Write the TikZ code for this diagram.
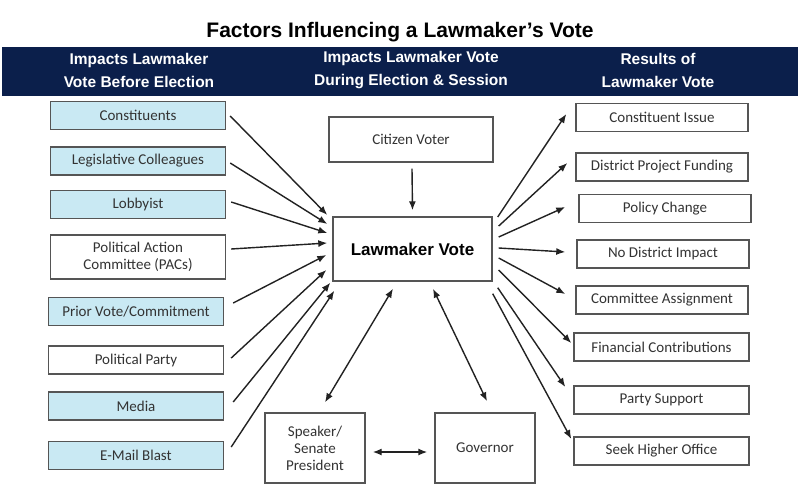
\documentclass[tikz,border=0pt]{standalone}
\usepackage{fontspec}
\setmainfont{Liberation Sans}
\newfontfamily\boxfont{Carlito}
\usetikzlibrary{arrows.meta}
\definecolor{navy}{HTML}{0B1F4B}
\definecolor{lblue}{HTML}{C9E9F3}
\definecolor{bline}{HTML}{555555}
\definecolor{btext}{HTML}{333333}
\definecolor{arrc}{HTML}{222222}
\begin{document}
\begin{tikzpicture}[x=1pt,y=-1pt,
  box/.style={draw=bline,line width=1.4pt,fill=white,inner sep=0pt,
    text=btext,font=\boxfont\fontsize{15}{18}\selectfont,align=center,
    minimum height=28pt},
  lbox/.style={box,minimum width=175pt},
  blbox/.style={lbox,fill=lblue},
  rbox/.style={box,minimum width=172pt},
  arr/.style={draw=arrc,line width=1.4pt,-{Latex[length=9pt,width=7pt]}},
  darr/.style={draw=arrc,line width=1.4pt,{Latex[length=9pt,width=7pt]}-{Latex[length=9pt,width=7pt]}},
  head/.style={text=white,font=\bfseries\fontsize{15.5}{23}\selectfont,align=center}
]
\useasboundingbox (0,0) rectangle (800,498);
\fill[white] (0,0) rectangle (800,498);
% title
\node[font=\bfseries\fontsize{21}{24}\selectfont] (title) at (400,32) {Factors Influencing a Lawmaker’s Vote};
% banner
\node[fill=navy,minimum width=796pt,minimum height=49pt,inner sep=0pt] (banner) at (400,71.5) {};
\node[head] (h1) at (139,70.5) {Impacts Lawmaker\\Vote Before Election};
\node[head] (h2) at (411,70.5) {Impacts Lawmaker Vote\\During Election \& Session};
\node[head] (h3) at (658,70.5) {Results of\\Lawmaker Vote};
% left column
\node[blbox] (l1) at (138,115.5) {Constituents};
\node[blbox] (l2) at (138,161) {Legislative Colleagues};
\node[blbox] (l3) at (138,204.5) {Lobbyist};
\node[lbox,minimum height=44pt] (l4) at (138,257) {Political Action\\[-1pt]Committee (PACs)};
\node[blbox] (l5) at (136,311.5) {Prior Vote/Commitment};
\node[lbox] (l6) at (136,360) {Political Party};
\node[blbox] (l7) at (136,406) {Media};
\node[blbox] (l8) at (136,455.5) {E-Mail Blast};
% center column
\node[box,minimum width=164pt,minimum height=45pt] (cv) at (411,139.5) {Citizen Voter};
\node[box,minimum width=159pt,minimum height=64pt,text=black,font=\bfseries\fontsize{17}{20}\selectfont] (lv) at (412.5,249) {Lawmaker Vote};
\node[box,minimum width=100pt,minimum height=70pt] (sp) at (315,448) {Speaker/\\[-1pt]Senate\\[-1pt]President};
\node[box,minimum width=100pt,minimum height=70pt] (gv) at (485,448) {Governor};
% right column
\node[rbox] (r1) at (662,117.5) {Constituent Issue};
\node[rbox] (r2) at (662,167) {District Project Funding};
\node[rbox] (r3) at (665,208.5) {Policy Change};
\node[rbox] (r4) at (663,254) {No District Impact};
\node[rbox] (r5) at (662,300) {Committee Assignment};
\node[rbox,minimum width=175pt] (r6) at (661.5,347) {Financial Contributions};
\node[rbox,minimum width=175pt] (r7) at (661.5,400) {Party Support};
\node[rbox,minimum width=175pt] (r8) at (661.5,451) {Seek Higher Office};
% left arrows
\draw[arr] ([shift={(4,0.5)}]l1.east) -- ([shift={(-5,-34)}]lv.west);
\draw[arr] ([shift={(4,2)}]l2.east) -- ([shift={(-5,-25)}]lv.west);
\draw[arr] ([shift={(5,-2.5)}]l3.east) -- ([shift={(-5,-16)}]lv.west);
\draw[arr] ([shift={(5,-8)}]l4.east) -- ([shift={(-5,-6)}]lv.west);
\draw[arr] ([shift={(9,-8.5)}]l5.east) -- ([shift={(-6,6)}]lv.west);
\draw[arr] ([shift={(7,-2)}]l6.east) -- ([shift={(-6,21)}]lv.west);
\draw[arr] ([shift={(9,-4)}]l7.east) -- ([shift={(-2,1)}]lv.south west);
\draw[arr] ([shift={(7,-8.5)}]l8.east) -- ([shift={(2,9)}]lv.south west);
% right arrows
\draw[arr] ([shift={(5,-32)}]lv.east) -- ([shift={(-9,-3.5)}]r1.west);
\draw[arr] ([shift={(6,-23)}]lv.east) -- ([shift={(-8,-4)}]r2.west);
\draw[arr] ([shift={(6,-12)}]lv.east) -- ([shift={(-13,-1.5)}]r3.west);
\draw[arr] ([shift={(6,-1)}]lv.east) -- ([shift={(-11,-2)}]r4.west);
\draw[arr] ([shift={(6,9)}]lv.east) -- ([shift={(-10,-6)}]r5.west);
\draw[arr] ([shift={(6,21)}]lv.east) -- ([shift={(-2,-4)}]r6.west);
\draw[arr] ([shift={(5,6)}]lv.south east) -- ([shift={(-8,-13)}]r7.west);
\draw[arr] ([shift={(0,12)}]lv.south east) -- ([shift={(-2,-12)}]r8.west);
% center arrows
\draw[arr] ([shift={(1,6)}]cv.south) -- ([shift={(0,-6)}]lv.north);
\draw[darr] ([shift={(-19.5,7)}]lv.south) -- ([shift={(10,-10)}]sp.north);
\draw[darr] ([shift={(20.5,7)}]lv.south) -- ([shift={(2,-11)}]gv.north);
\draw[darr] ([shift={(7,4)}]sp.east) -- ([shift={(-7,4)}]gv.west);
\end{tikzpicture}
\end{document}
